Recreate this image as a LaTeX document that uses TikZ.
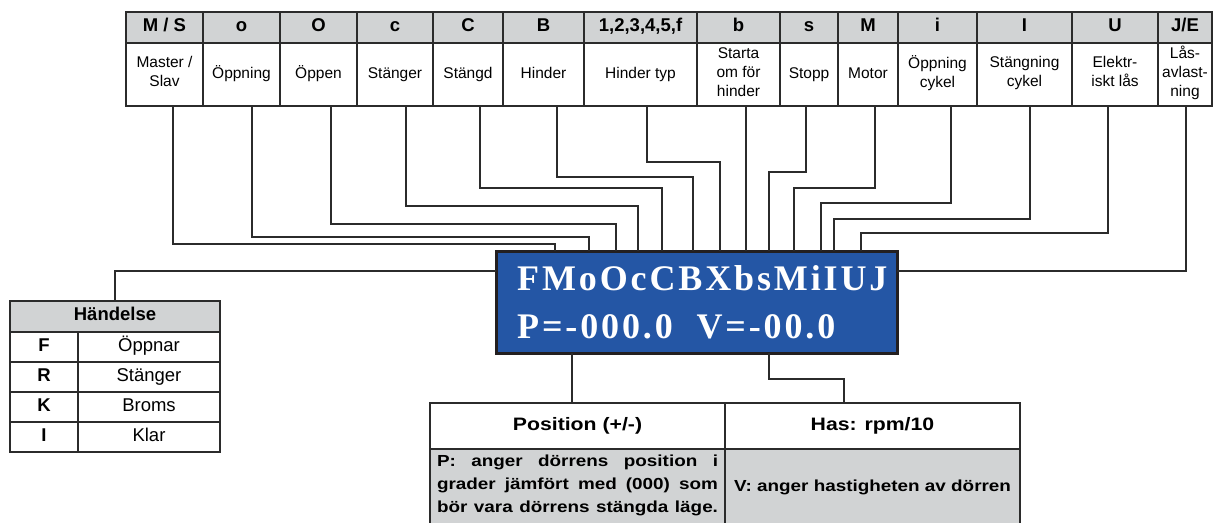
\documentclass[tikz,border=0pt]{standalone}
\usepackage{fontspec}
\setmainfont{Liberation Sans}
\newfontfamily\widesans[FakeStretch=1.18]{Liberation Sans}
\newfontfamily\lcdfont[LetterSpace=8]{Liberation Serif}
\usepackage{tikz}
\usetikzlibrary{positioning}

\definecolor{lcdblue}{HTML}{2456A5}
\definecolor{lcdframe}{HTML}{231F20}
\definecolor{cellgray}{HTML}{D1D3D4}
\definecolor{linec}{HTML}{2B2B2B}

\begin{document}
\begin{tikzpicture}[
    x=1pt, y=-1pt,
    cell/.style={rectangle, draw=linec, line width=1.8pt, outer sep=0pt,
      inner xsep=2pt, inner ysep=2pt, align=center,
      execute at begin node=\strut, execute at end node=\strut},
    keyhead/.style={cell, fill=cellgray, minimum height=31pt,
      font=\fontsize{18.5}{22}\selectfont\bfseries},
    keytext/.style={cell, minimum height=63pt, font=\fontsize{15.5}{19}\selectfont},
    evhead/.style={cell, fill=cellgray, minimum width=210pt, minimum height=31pt,
      font=\fontsize{18.5}{22}\selectfont\bfseries},
    evkey/.style={cell, minimum width=68pt, minimum height=30pt,
      font=\fontsize{18.5}{22}\selectfont\bfseries},
    evtext/.style={cell, minimum width=142pt, minimum height=30pt,
      font=\fontsize{18.5}{22}\selectfont},
    valhead/.style={cell, minimum width=295pt, minimum height=46pt,
      font=\widesans\fontsize{18}{22}\selectfont\bfseries},
    valtext/.style={cell, fill=cellgray, minimum width=295pt, minimum height=76pt,
      font=\widesans\fontsize{16}{23}\selectfont\bfseries},
    lcd/.style={rectangle, draw=lcdframe, fill=lcdblue, line width=3pt,
      outer sep=0pt, minimum width=401pt, minimum height=102pt},
    wire/.style={draw=linec, line width=1.6pt},
  ]
    \useasboundingbox (0,0) rectangle (1214,522);

    % Code table: letters
    \node[keyhead, minimum width=77pt] (hms) at (164.5,27.5) {M / S};
    \node[keyhead, minimum width=77pt, right=0pt of hms] (hoppning) {o};
    \node[keyhead, minimum width=77pt, right=0pt of hoppning] (hoppen) {O};
    \node[keyhead, minimum width=76pt, right=0pt of hoppen] (hstanger) {c};
    \node[keyhead, minimum width=70pt, right=0pt of hstanger] (hstangd) {C};
    \node[keyhead, minimum width=81pt, right=0pt of hstangd] (hhinder) {B};
    \node[keyhead, minimum width=113pt, right=0pt of hhinder] (htyp) {1,2,3,4,5,f};
    \node[keyhead, minimum width=83pt, right=0pt of htyp] (hstarta) {b};
    \node[keyhead, minimum width=58pt, right=0pt of hstarta] (hstopp) {s};
    \node[keyhead, minimum width=60pt, right=0pt of hstopp] (hmotor) {M};
    \node[keyhead, minimum width=79pt, right=0pt of hmotor] (hocykel) {i};
    \node[keyhead, minimum width=95pt, right=0pt of hocykel] (hscykel) {I};
    \node[keyhead, minimum width=86pt, right=0pt of hscykel] (hlas) {U};
    \node[keyhead, minimum width=54pt, right=0pt of hlas] (havlast) {J/E};

    % Code table: meaning
    \node[keytext, minimum width=77pt, below=0pt of hms] (ms) {Master /\\Slav};
    \node[keytext, minimum width=77pt, below=0pt of hoppning] (oppning) {Öppning};
    \node[keytext, minimum width=77pt, below=0pt of hoppen] (oppen) {Öppen};
    \node[keytext, minimum width=76pt, below=0pt of hstanger] (stanger) {Stänger};
    \node[keytext, minimum width=70pt, below=0pt of hstangd] (stangd) {Stängd};
    \node[keytext, minimum width=81pt, below=0pt of hhinder] (hinder) {Hinder};
    \node[keytext, minimum width=113pt, below=0pt of htyp] (typ) {Hinder typ};
    \node[keytext, minimum width=83pt, below=0pt of hstarta] (starta) {Starta\\om för\\hinder};
    \node[keytext, minimum width=58pt, below=0pt of hstopp] (stopp) {Stopp};
    \node[keytext, minimum width=60pt, below=0pt of hmotor] (motor) {Motor};
    \node[keytext, minimum width=79pt, below=0pt of hocykel] (ocykel) {Öppning\\cykel};
    \node[keytext, minimum width=95pt, below=0pt of hscykel] (scykel) {Stängning\\cykel};
    \node[keytext, minimum width=86pt, below=0pt of hlas] (las) {Elektr-\\iskt lås};
    \node[keytext, minimum width=54pt, below=0pt of havlast] (avlast) {Lås-\\avlast-\\ning};

    % Display
    \node[lcd] (lcd) at (696.5,302) {};
    \node[anchor=west, text=white, align=left, inner sep=0pt,
      font=\lcdfont\fontsize{36}{48}\selectfont\bfseries] (code)
      at ([xshift=21]lcd.west) {FMoOcCBXbsMiIUJ\\P=-000.0\ \ V=-00.0};

    % Event table
    \node[evhead] (hd) at (115,316.5) {Händelse};
    \node[evkey, anchor=north west] (kf) at (hd.south west) {F};
    \node[evtext, right=0pt of kf] (vf) {Öppnar};
    \node[evkey, below=0pt of kf] (kr) {R};
    \node[evtext, right=0pt of kr] (vr) {Stänger};
    \node[evkey, below=0pt of kr] (kk) {K};
    \node[evtext, right=0pt of kk] (vk) {Broms};
    \node[evkey, below=0pt of kk] (ki) {I};
    \node[evtext, right=0pt of ki] (vi) {Klar};

    % Value table
    \node[valhead] (pos) at (577.5,426) {Position (+/-)};
    \node[valhead, right=0pt of pos] (has) {Has: rpm/10};
    \node[valtext, below=0pt of pos] (pdesc)
      {\makebox[281pt][s]{P: anger dörrens position i}\\
       \makebox[281pt][s]{grader jämfört med (000) som}\\
       \makebox[281pt][s]{bör vara dörrens stängda läge.}};
    \node[valtext, below=0pt of has] (vdesc) {V: anger hastigheten av dörren};

    % Wires
    \draw[wire] ([xshift=8.5]ms.south) -- ++(0,138) -| ([xshift=59]lcd.north west);
    \draw[wire] ([xshift=10.5]oppning.south) -- ++(0,131) -| ([xshift=93]lcd.north west);
    \draw[wire] ([xshift=12.5]oppen.south) -- ++(0,118) -| ([xshift=120]lcd.north west);
    \draw[wire] ([xshift=11]stanger.south) -- ++(0,100) -| ([xshift=142]lcd.north west);
    \draw[wire] ([xshift=12]stangd.south) -- ++(0,82) -| ([xshift=166]lcd.north west);
    \draw[wire] ([xshift=13.5]hinder.south) -- ++(0,71) -| ([xshift=197]lcd.north west);
    \draw[wire] ([xshift=6.5]typ.south) -- ++(0,56) -| ([xshift=224]lcd.north west);
    \draw[wire] ([xshift=7.5]starta.south) -- ([xshift=250]lcd.north west);
    \draw[wire] ([xshift=-3]stopp.south) -- ++(0,66) -| ([xshift=273]lcd.north west);
    \draw[wire] ([xshift=7]motor.south) -- ++(0,82) -| ([xshift=298]lcd.north west);
    \draw[wire] ([xshift=13.5]ocykel.south) -- ++(0,97) -| ([xshift=325]lcd.north west);
    \draw[wire] ([xshift=5.5]scykel.south) -- ++(0,113) -| ([xshift=338]lcd.north west);
    \draw[wire] ([xshift=-7]las.south) -- ++(0,127) -| ([xshift=365]lcd.north west);
    \draw[wire] ([xshift=1]avlast.south) |- ([yshift=-20pt]lcd.north east);
    \draw[wire] ([yshift=-20pt]lcd.north west) -| (hd.north);
    \draw[wire] ([xshift=76]lcd.south west) -- ([xshift=-5.5]pos.north);
    \draw[wire] ([xshift=273]lcd.south west) -- ++(0,26) -| ([xshift=-28.5]has.north);
\end{tikzpicture}
\end{document}
